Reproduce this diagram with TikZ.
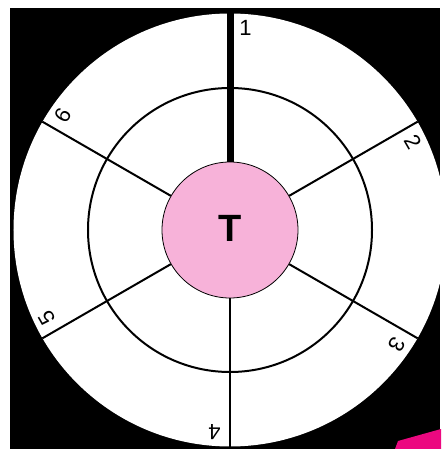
\documentclass[tikz,border=0pt]{standalone}
\usepackage{fontspec}
\setsansfont{Liberation Sans}
\definecolor{hubpink}{RGB}{247,178,217}
\definecolor{cornerpink}{RGB}{236,8,128}

\begin{document}
\begin{tikzpicture}[x=1pt,y=1pt,
  spoke/.style={line width=2pt},
  ring/.style={circle,draw,line width=2pt,inner sep=0pt},
  numlabel/.style={font=\sffamily\fontsize{22}{26}\selectfont,inner sep=0pt}]
\useasboundingbox (-230,-219) rectangle (211,230);
\fill[black] (-220,-219) rectangle (210,222);
\fill[cornerpink] (165,-219) -- (168,-211) -- (211,-199) -- (211,-219) -- cycle;
\node[circle,fill=white,inner sep=0pt,minimum size=433pt] (rim) at (0,0) {};
\node[ring,minimum size=284pt] (band) at (0,0) {};
\node[circle,draw,fill=hubpink,line width=0.8pt,minimum size=136pt,inner sep=0pt,
  font=\sffamily\bfseries\fontsize{38}{40}\selectfont] (hub) at (0,0) {\raisebox{4pt}{T}};
\draw[line width=7pt] (hub.90) -- (rim.90);
\foreach \a in {30,-30,-90,-150,150} { \draw[spoke] (hub.\a) -- (rim.\a); }
\foreach \n/\a in {1/90,2/30,3/-30,4/-90,5/-150,6/150}
  { \node[numlabel,rotate=\a-90] (lab\n) at (\a-4.4:203) {\n}; }
\end{tikzpicture}
\end{document}
